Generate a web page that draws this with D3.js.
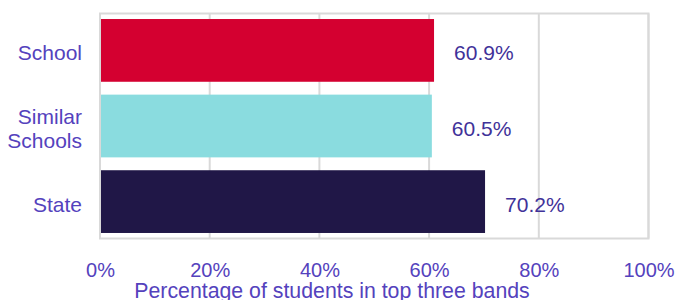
<!DOCTYPE html>
<html>
<head>
<meta charset="utf-8">
<script src="https://cdn.jsdelivr.net/npm/d3@7"></script>
<style>
  body { margin: 0; background: #fff; }
  svg { display: block; font-family: "Liberation Sans", Arial, sans-serif; }
</style>
</head>
<body>
<svg id="chart" width="680" height="300"></svg>
<script>
var categories = [["School"], ["Similar", "Schools"], ["State"]]
var values = [60.9, 60.5, 70.2]
var barColors = ["#d40030", "#8adcdf", "#201747"]
var ticks = [0, 20, 40, 60, 80, 100]

var svg = d3.select("svg#chart")
var margin = {left: 100, right: 31.5, top: 13.5, bottom: 61.5}
var width = 680, height = 300
var textColor = "#5442bd"
var valueColor = "#3f3299"

var x = d3.scaleLinear()
    .domain([0, 100])
    .range([margin.left, width - margin.right])
var y = d3.scaleBand()
    .domain(d3.range(values.length))
    .range([margin.top, height - margin.bottom])
    .paddingInner(0.17)
    .paddingOuter(0.073)

// grid lines
svg.append("g")
    .selectAll("line")
    .data(ticks)
    .enter()
    .append("line")
      .attr("x1", d => x(d))
      .attr("x2", d => x(d))
      .attr("y1", margin.top)
      .attr("y2", height - margin.bottom)
      .attr("stroke", "#d9d9d9")
      .attr("stroke-width", 2)

// plot box
svg.append("rect")
    .attr("x", x(0))
    .attr("y", margin.top)
    .attr("width", x(100) - x(0))
    .attr("height", height - margin.bottom - margin.top)
    .attr("fill", "none")
    .attr("stroke", "#d9d9d9")
    .attr("stroke-width", 2)

// bars
svg.append("g")
    .selectAll("rect")
    .data(values)
    .enter()
    .append("rect")
      .attr("x", x(0) + 1)
      .attr("y", (d, i) => y(i))
      .attr("width", d => x(d) - x(0) - 1)
      .attr("height", y.bandwidth())
      .attr("fill", (d, i) => barColors[i])

// value labels
svg.append("g")
    .selectAll("text")
    .data(values)
    .enter()
    .append("text")
      .attr("x", d => x(d) + 20)
      .attr("y", (d, i) => y(i) + y.bandwidth() / 2 + 10)
      .attr("fill", valueColor)
      .style("font-size", "21px")
      .text(d => d.toFixed(1) + "%")

// category labels
var cat = svg.append("g")
    .selectAll("text")
    .data(categories)
    .enter()
    .append("text")
      .attr("text-anchor", "end")
      .attr("fill", textColor)
      .style("font-size", "21px")
      .attr("y", (d, i) => y(i) + y.bandwidth() / 2 + 10 - (d.length - 1) * 12)
cat.selectAll("tspan")
    .data(d => d)
    .enter()
    .append("tspan")
      .attr("x", 82)
      .attr("dy", (d, i) => i === 0 ? 0 : 24)
      .text(d => d)

// x axis
var xAxis = g => g
    .attr("transform", `translate(0,${height - margin.bottom})`)
    .call(d3.axisBottom(x).tickValues(ticks).tickSize(0).tickPadding(24).tickFormat(d => d + "%"))
    .call(g => g.select(".domain").remove())
    .call(g => g.selectAll("text")
        .attr("fill", textColor)
        .style("font-size", "20px")
        .style("font-family", "'Liberation Sans', Arial, sans-serif"))
svg.append("g").call(xAxis)

svg.append("text")
    .attr("x", 332)
    .attr("y", 297.5)
    .attr("text-anchor", "middle")
    .attr("fill", textColor)
    .style("font-size", "21.3px")
    .text("Percentage of students in top three bands")
</script>
</body>
</html>
